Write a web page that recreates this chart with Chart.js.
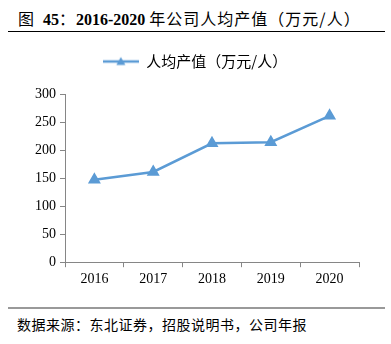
<!DOCTYPE html>
<html>
<head>
<meta charset="utf-8">
<script src="https://cdn.jsdelivr.net/npm/chart.js"></script>
<style>
body { margin: 0; width: 391px; height: 344px; background: #fff; position: relative; overflow: hidden; }
#title { position: absolute; left: 18px; top: 6px; font: bold 16px "Liberation Serif", "Noto Sans CJK SC"; color: #000; white-space: nowrap; }
#title .cn { font-family: "Noto Sans CJK SC"; font-weight: normal; letter-spacing: 1px; }
#topline { position: absolute; left: 8px; width: 377px; top: 31px; height: 1px; background: #000; }
#wrap { position: absolute; left: 0; top: 36px; width: 391px; height: 256px; }
#botline { position: absolute; left: 8px; width: 377px; top: 307px; height: 2px; background: #999; }
#source { position: absolute; left: 17px; top: 314px; font: 14px "Noto Sans CJK SC"; letter-spacing: 0.5px; color: #000; white-space: nowrap; }
</style>
</head>
<body>
<div id="title"><span class="cn">图</span>&nbsp; 45<span class="cn">：</span>2016-2020 <span class="cn">年公司人均产值（万元/人）</span></div>
<div id="topline"></div>
<div id="wrap"><canvas id="chart"></canvas></div>
<div id="botline"></div>
<div id="source">数据来源：东北证券，招股说明书，公司年报</div>
<script>
const years = ['2016', '2017', '2018', '2019', '2020'];
const perCapita = [147, 161, 212, 214, 261];
const seriesName = '人均产值（万元/人）';
const blue = '#5B9BD5';

// legend marker: line with a triangle
let marker = document.createElement('canvas');
marker.width = 36;
marker.height = 12;
let mctx = marker.getContext('2d');
mctx.strokeStyle = blue;
mctx.lineWidth = 2.5;
mctx.beginPath();
mctx.moveTo(0, 6);
mctx.lineTo(36, 6);
mctx.stroke();
mctx.fillStyle = blue;
mctx.beginPath();
mctx.moveTo(18, 1.5);
mctx.lineTo(22.5, 9.5);
mctx.lineTo(13.5, 9.5);
mctx.closePath();
mctx.fill();

// extra space under the legend
const legendGap = {
    id: 'legendGap',
    beforeInit(chart) {
        const fit = chart.legend.fit;
        chart.legend.fit = function () {
            fit.bind(chart.legend)();
            this.height += 15;
        };
    },
};

let ctx = document.getElementById('chart').getContext('2d');
let chart = new Chart(ctx, {
    type: 'line',
    data: {
        labels: years,
        datasets: [{
            label: seriesName,
            data: perCapita,
            borderColor: blue,
            backgroundColor: blue,
            borderWidth: 2.5,
            pointStyle: 'triangle',
            pointRadius: 5,
            pointHoverRadius: 5,
            tension: 0,
        }],
    },
    options: {
        responsive: true,
        maintainAspectRatio: false,
        animation: false,
        layout: { padding: { left: 31, right: 32, top: 0, bottom: 0 } },
        plugins: {
            legend: {
                position: 'top',
                labels: {
                    usePointStyle: true,
                    pointStyleWidth: 36,
                    color: '#000',
                    font: { family: 'Noto Sans CJK SC', size: 15 },
                    padding: 18,
                    generateLabels: (c) => [{
                        text: seriesName,
                        pointStyle: marker,
                        fillStyle: blue,
                        strokeStyle: blue,
                        lineWidth: 0,
                        datasetIndex: 0,
                    }],
                },
            },
            tooltip: { enabled: false },
        },
        scales: {
            x: {
                offset: true,
                grid: { offset: true, drawOnChartArea: false, drawTicks: true, tickLength: 5, color: '#868686' },
                border: { color: '#868686' },
                ticks: { color: '#000', font: { family: 'Liberation Serif', size: 14 }, padding: 4 },
            },
            y: {
                min: 0,
                max: 300,
                ticks: { stepSize: 50, color: '#000', font: { family: 'Liberation Serif', size: 14 }, padding: 4 },
                grid: { drawOnChartArea: false, drawTicks: true, tickLength: 5, color: '#868686' },
                border: { color: '#868686' },
            },
        },
    },
    plugins: [legendGap],
});
</script>
</body>
</html>
